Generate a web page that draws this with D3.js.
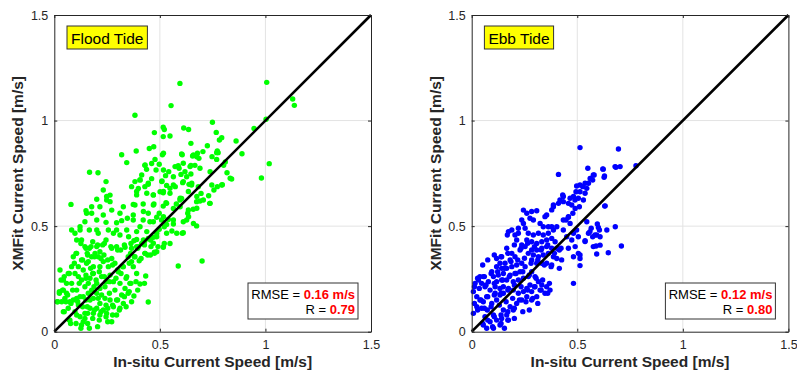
<!DOCTYPE html>
<html>
<head>
<meta charset="utf-8">
<script src="https://cdn.jsdelivr.net/npm/d3@7"></script>
<style>
  html, body { margin: 0; padding: 0; background: #fff; }
  svg { display: block; font-family: "Liberation Sans", Arial, sans-serif; }
</style>
</head>
<body>
<svg id="chart" width="797" height="374"></svg>
<script>
// axis ticks shared by both panels
const ticks = [0, 0.5, 1, 1.5];
const tickLabels = ["0", "0.5", "1", "1.5"];

// flood tide: [in-situ, xmfit]
const flood = [
  [0.595,1.176],[1.006,1.181],[1.129,1.102],[1.137,1.072],[0.553,1.071],[0.382,1.025],[1.003,1.006],[0.946,0.963],
  [0.749,0.992],[0.516,0.968],[0.521,0.958],[0.613,0.965],[0.636,0.958],[0.516,0.924],[0.548,0.927],[0.767,0.944],
  [0.793,0.919],[0.782,0.908],[0.861,0.903],[0.889,0.843],[1.018,0.796],[0.981,0.728],[0.647,0.892],[0.725,0.881],
  [0.474,0.943],[0.471,0.876],[0.450,0.868],[0.388,0.856],[0.319,0.838],[0.343,0.801],[0.167,0.755],[0.207,0.753],
  [0.079,0.603],[0.512,0.838],[0.429,0.788],[0.700,0.335],[0.587,0.311],
  [0.606,0.838],[0.655,0.832],[0.678,0.845],[0.685,0.821],[0.704,0.853],[0.747,0.829],[0.772,0.856],[0.776,0.848],
  [0.769,0.816],[0.810,0.804],[0.802,0.788],[0.818,0.753],[0.840,0.723],[0.796,0.696],[0.772,0.687],[0.756,0.671],
  [0.736,0.608],[0.731,0.644],[0.690,0.619],[0.695,0.655],[0.674,0.616],[0.658,0.580],[0.632,0.561],[0.636,0.545],
  [0.627,0.529],[0.674,0.501],[0.611,0.469],[0.606,0.466],[0.564,0.510],[0.557,0.477],[0.532,0.508],[0.548,0.418],
  [0.521,0.418],[0.516,0.400],[0.491,0.403],[0.474,0.376],[0.455,0.363],[0.429,0.371],[0.406,0.226],[0.445,0.141],
  [0.433,0.264],[0.377,0.169],
  [0.587,0.786],[0.591,0.774],[0.600,0.745],[0.619,0.758],[0.627,0.734],[0.647,0.747],[0.647,0.788],[0.666,0.788],
  [0.564,0.734],[0.542,0.758],[0.527,0.739],[0.510,0.714],[0.501,0.663],[0.516,0.658],[0.532,0.693],[0.548,0.679],
  [0.573,0.687],[0.608,0.706],[0.638,0.698],[0.650,0.695],[0.603,0.631],[0.595,0.624],[0.578,0.605],[0.564,0.584],
  [0.529,0.611],[0.516,0.595],[0.497,0.561],[0.485,0.542],[0.469,0.521],[0.508,0.529],[0.540,0.532],[0.521,0.497],
  [0.497,0.485],[0.485,0.466],[0.469,0.447],[0.456,0.434],[0.445,0.442],[0.429,0.431],[0.414,0.418],[0.398,0.403],
  [0.390,0.437],[0.377,0.431],[0.366,0.395],[0.361,0.371],[0.382,0.355],[0.402,0.336],
  [0.461,0.725],[0.445,0.698],[0.429,0.687],[0.398,0.678],[0.406,0.719],[0.390,0.648],[0.374,0.603],[0.421,0.605],
  [0.469,0.648],[0.472,0.605],[0.445,0.561],[0.421,0.529],[0.406,0.497],[0.374,0.529],[0.346,0.537],[0.311,0.561],
  [0.295,0.516],[0.327,0.592],[0.319,0.526],[0.272,0.576],[0.248,0.624],[0.264,0.616],[0.232,0.671],[0.248,0.640],
  [0.216,0.592],[0.232,0.553],[0.201,0.529],[0.177,0.561],[0.201,0.482],[0.208,0.466],[0.245,0.518],[0.256,0.482],
  [0.280,0.466],[0.295,0.482],[0.311,0.458],[0.343,0.482],[0.352,0.450],[0.335,0.400],[0.314,0.387],[0.295,0.403],
  [0.272,0.395],[0.245,0.434],[0.229,0.411],[0.201,0.403],[0.182,0.426],[0.166,0.395],[0.145,0.403],[0.129,0.434],
  [0.122,0.482],[0.122,0.497],[0.145,0.521],[0.153,0.561],[0.166,0.482],[0.098,0.466],[0.106,0.371],[0.090,0.355],
  [0.082,0.308],[0.043,0.245],[0.027,0.292],[0.024,0.190],[0.014,0.142],
  [0.043,0.197],[0.058,0.182],[0.074,0.142],[0.066,0.111],[0.074,0.055],[0.077,0.039],[0.098,0.095],[0.114,0.126],
  [0.122,0.071],[0.129,0.032],[0.137,0.047],[0.145,0.087],[0.156,0.118],[0.169,0.150],[0.161,0.182],[0.145,0.213],
  [0.129,0.245],[0.114,0.261],[0.098,0.276],[0.082,0.229],[0.106,0.197],[0.122,0.166],[0.090,0.150],[0.114,0.308],
  [0.129,0.340],[0.153,0.324],[0.172,0.300],[0.185,0.276],[0.198,0.245],[0.188,0.213],[0.201,0.182],[0.208,0.158],
  [0.216,0.134],[0.201,0.111],[0.185,0.087],[0.216,0.079],[0.232,0.103],[0.248,0.087],[0.245,0.126],[0.264,0.150],
  [0.261,0.182],[0.240,0.213],[0.224,0.261],[0.216,0.308],[0.232,0.332],[0.256,0.308],[0.264,0.268],[0.280,0.237],
  [0.287,0.197],[0.295,0.150],[0.280,0.118],[0.272,0.047],[0.295,0.079],[0.311,0.111],[0.327,0.134],[0.319,0.174],
  [0.335,0.205],[0.311,0.229],[0.303,0.284],[0.327,0.308],[0.343,0.261],[0.358,0.229],[0.350,0.182],[0.366,0.142],
  [0.374,0.308],[0.390,0.276],[0.366,0.332],[0.350,0.355],[0.150,0.268],[0.156,0.371],[0.177,0.355],[0.193,0.371],
  [0.208,0.355],[0.216,0.379],[0.235,0.363],[0.272,0.347],[0.287,0.324],[0.150,0.150],[0.169,0.111],[0.145,0.063],
  [0.106,0.079],[0.043,0.095],[0.035,0.142],[0.050,0.158],[0.058,0.229],[0.066,0.276],[0.137,0.166],[0.177,0.197],
  [0.201,0.229],[0.245,0.237],[0.161,0.229],[0.106,0.158],[0.216,0.205],[0.224,0.174],[0.240,0.158],[0.185,0.158],
  [0.169,0.253],[0.185,0.308],[0.137,0.292],[0.161,0.332],
  [0.082,0.482],[0.106,0.434],[0.150,0.573],[0.177,0.592],[0.201,0.627],[0.245,0.711],[0.264,0.647],
  [0.366,0.687],[0.382,0.711],[0.414,0.742],[0.437,0.769],[0.461,0.797],[0.482,0.766],[0.497,0.793],[0.477,0.816],
  [0.126,0.418],[0.150,0.395],[0.174,0.403],[0.205,0.411],[0.237,0.418],[0.268,0.403],[0.300,0.387],[0.332,0.411],
  [0.363,0.418],[0.395,0.395],[0.427,0.411],[0.458,0.403],[0.474,0.371],[0.442,0.363],[0.411,0.347],[0.379,0.355],
  [0.355,0.324],[0.324,0.308],[0.300,0.292],[0.276,0.316],[0.253,0.340],[0.221,0.347],[0.190,0.355],[0.158,0.363],
  [0.134,0.340],[0.103,0.371],[0.095,0.324],[0.071,0.276],[0.047,0.261],[0.032,0.245],[0.039,0.197],[0.024,0.182],
  [0.063,0.174],[0.087,0.197],[0.118,0.229],[0.150,0.253],[0.182,0.276],[0.213,0.284],[0.237,0.261],[0.261,0.237],
  [0.292,0.253],[0.316,0.276],[0.340,0.253],[0.363,0.229],[0.387,0.237],[0.427,0.229],[0.395,0.197],[0.355,0.190],
  [0.332,0.166],[0.300,0.150],[0.276,0.126],[0.253,0.111],[0.221,0.095],[0.190,0.103],[0.158,0.087],[0.134,0.118],
  [0.111,0.142],[0.079,0.134],[0.055,0.142],[0.016,0.142],[0.047,0.095],[0.071,0.055],[0.103,0.039],[0.126,0.016],
  [0.158,0.039],[0.182,0.063],[0.213,0.055],[0.245,0.071],[0.276,0.079],[0.308,0.103],[0.340,0.118],[0.253,0.047],
  [0.205,0.024],[0.166,0.016],
  [0.517,0.845],[0.603,0.842],[0.659,0.837],[0.675,0.829],[0.769,0.848],[0.430,0.790],[0.517,0.766],[0.572,0.782],
  [0.611,0.798],[0.643,0.782],[0.690,0.774],[0.738,0.758],[0.406,0.719],[0.445,0.703],[0.509,0.711],[0.564,0.695],
  [0.611,0.711],[0.651,0.703],[0.682,0.687],[0.746,0.695],[0.793,0.695],[0.833,0.727],[0.390,0.664],[0.438,0.656],
  [0.469,0.648],[0.517,0.664],[0.548,0.656],[0.596,0.632],[0.635,0.664],[0.675,0.640],[0.706,0.624],[0.738,0.608],
  [0.382,0.600],[0.422,0.569],[0.469,0.600],[0.532,0.608],[0.596,0.592],[0.635,0.577],[0.675,0.585],[0.374,0.553],
  [0.453,0.521],[0.517,0.545],[0.564,0.529],[0.611,0.521],[0.659,0.513],[0.390,0.474],[0.438,0.474],[0.485,0.450],
  [0.532,0.466],[0.580,0.466],[0.422,0.434],[0.469,0.419],[0.517,0.403],[0.390,0.403],[0.430,0.371],[0.485,0.379]
];

// ebb tide: [in-situ, xmfit]
const ebb = [
  [0.513,0.872],[0.695,0.865],[0.621,0.771],[0.679,0.782],[0.703,0.782],[0.778,0.786],[0.550,0.774],[0.411,0.745],
  [0.629,0.738],[0.630,0.595],[0.709,0.406],[0.680,0.497],[0.647,0.374],[0.482,0.229],[0.513,0.313],
  [0.580,0.742],[0.573,0.718],[0.561,0.726],[0.553,0.703],[0.537,0.703],[0.526,0.687],[0.513,0.695],[0.497,0.690],
  [0.494,0.663],[0.513,0.663],[0.482,0.640],[0.466,0.632],[0.458,0.608],[0.474,0.600],[0.490,0.584],[0.479,0.561],
  [0.458,0.545],[0.434,0.616],[0.411,0.608],[0.387,0.600],[0.431,0.648],[0.537,0.656],[0.545,0.679],[0.529,0.624],
  [0.510,0.592],[0.434,0.640],[0.387,0.592],
  [0.545,0.521],[0.566,0.490],[0.595,0.510],[0.605,0.482],[0.592,0.458],[0.608,0.450],[0.573,0.450],[0.553,0.466],
  [0.537,0.431],[0.576,0.403],[0.589,0.406],[0.608,0.410],[0.592,0.368],[0.640,0.482],[0.497,0.482],[0.482,0.466],
  [0.474,0.434],[0.490,0.403],[0.505,0.371],[0.513,0.347],[0.482,0.355],[0.458,0.395],[0.450,0.450],[0.466,0.513],
  [0.434,0.482],[0.447,0.529],[0.426,0.340],[0.415,0.387],
  [0.308,0.573],[0.284,0.569],[0.276,0.537],[0.292,0.529],[0.355,0.553],[0.324,0.513],[0.339,0.497],[0.363,0.497],
  [0.379,0.497],[0.387,0.482],[0.403,0.497],[0.363,0.466],[0.339,0.458],[0.316,0.466],[0.292,0.458],[0.268,0.466],
  [0.253,0.490],[0.245,0.513],[0.261,0.434],[0.284,0.426],[0.308,0.418],[0.332,0.426],[0.355,0.434],[0.379,0.442],
  [0.395,0.426],[0.403,0.395],[0.379,0.395],[0.355,0.403],[0.332,0.395],[0.308,0.387],[0.284,0.387],[0.292,0.363],
  [0.316,0.355],[0.339,0.363],[0.363,0.371],[0.387,0.355],[0.403,0.347],[0.379,0.316],[0.355,0.324],[0.332,0.324],
  [0.308,0.324],[0.284,0.340],[0.268,0.371],[0.253,0.403],[0.237,0.411],[0.229,0.387],[0.213,0.434],[0.205,0.458],
  [0.221,0.466],[0.190,0.482],[0.174,0.474],[0.221,0.490],[0.237,0.529],[0.261,0.561],[0.245,0.576],
  [0.166,0.395],[0.190,0.371],[0.205,0.355],[0.182,0.340],[0.158,0.324],[0.134,0.324],[0.118,0.308],[0.142,0.300],
  [0.166,0.300],[0.190,0.308],[0.213,0.316],[0.237,0.324],[0.253,0.308],[0.229,0.284],[0.205,0.276],[0.182,0.268],
  [0.150,0.276],[0.126,0.268],[0.103,0.261],[0.095,0.284],[0.118,0.237],[0.142,0.245],[0.166,0.245],[0.197,0.237],
  [0.221,0.245],[0.245,0.253],[0.268,0.261],[0.284,0.284],[0.300,0.261],[0.316,0.237],[0.332,0.221],[0.355,0.213],
  [0.371,0.197],[0.347,0.182],[0.324,0.197],[0.300,0.213],[0.276,0.221],[0.261,0.205],[0.245,0.190],[0.221,0.182],
  [0.197,0.197],[0.174,0.205],[0.150,0.213],[0.284,0.190],[0.308,0.166],[0.284,0.150],[0.261,0.166],[0.237,0.150],
  [0.213,0.134],[0.197,0.103],[0.182,0.118],[0.166,0.079],[0.150,0.103],[0.174,0.055],[0.142,0.063],[0.134,0.032],
  [0.118,0.055],[0.103,0.079],[0.087,0.047],[0.071,0.016],[0.063,0.071],[0.074,0.103],[0.095,0.134],[0.118,0.150],
  [0.134,0.174],[0.111,0.182],[0.087,0.197],[0.063,0.213],[0.047,0.229],[0.032,0.245],[0.016,0.229],[0.008,0.190],
  [0.024,0.166],[0.039,0.150],[0.008,0.087],[0.024,0.118],[0.047,0.111],[0.055,0.142],[0.071,0.166],[0.079,0.237],
  [0.055,0.261],[0.039,0.261],[0.111,0.213],[0.134,0.205],[0.150,0.182],[0.103,0.016],[0.055,0.032],
  [0.169,0.458],[0.142,0.355],[0.118,0.347],
  [0.202,0.411],[0.234,0.395],[0.265,0.419],[0.297,0.403],[0.329,0.387],[0.360,0.411],[0.392,0.371],[0.423,0.395],
  [0.171,0.371],[0.139,0.355],[0.107,0.363],[0.076,0.340],[0.052,0.316],[0.186,0.332],[0.218,0.340],[0.250,0.348],
  [0.281,0.324],[0.313,0.340],[0.344,0.316],[0.376,0.308],[0.415,0.300],[0.155,0.300],[0.123,0.284],[0.092,0.276],
  [0.060,0.261],[0.028,0.253],[0.013,0.213],[0.036,0.205],[0.068,0.221],[0.107,0.229],[0.147,0.245],[0.178,0.261],
  [0.210,0.276],[0.242,0.284],[0.273,0.269],[0.305,0.253],[0.336,0.245],[0.368,0.229],[0.360,0.182],[0.329,0.197],
  [0.297,0.213],[0.265,0.197],[0.234,0.213],[0.202,0.221],[0.171,0.197],[0.139,0.182],[0.107,0.174],[0.076,0.166],
  [0.044,0.150],[0.013,0.134],[0.028,0.103],[0.060,0.111],[0.092,0.118],[0.131,0.126],[0.163,0.142],[0.194,0.158],
  [0.226,0.150],[0.257,0.142],[0.289,0.158],[0.313,0.134],[0.273,0.103],[0.242,0.095],[0.202,0.111],[0.171,0.095],
  [0.139,0.079],[0.107,0.071],[0.076,0.055],[0.052,0.039],[0.099,0.024],[0.139,0.039],[0.171,0.055],[0.202,0.063],
  [0.155,0.016],
  [0.623,0.770],[0.683,0.779],[0.627,0.731],[0.576,0.742],[0.564,0.726],[0.489,0.624],[0.505,0.632],[0.418,0.624],
  [0.379,0.577],[0.632,0.596],[0.347,0.545],[0.434,0.529],[0.458,0.542],[0.600,0.494],[0.560,0.474],[0.584,0.458],
  [0.505,0.450],[0.537,0.427],[0.513,0.363]
];

const panels = [
  {name: "Flood Tide", data: flood, color: "#00ff00", left: 54.3, rmse: "0.16 m/s", r: "0.79"},
  {name: "Ebb Tide", data: ebb, color: "#0000ff", left: 471.7, rmse: "0.12 m/s", r: "0.80"}
];

const svg = d3.select("#chart");
const plotW = 316.7, plotTop = 15, plotH = 316.7;

panels.forEach(p => drawPanel(p));

function drawPanel(p) {
  const x = d3.scaleLinear().domain([0, 1.5]).range([p.left, p.left + plotW]);
  const y = d3.scaleLinear().domain([0, 1.5]).range([plotTop + plotH, plotTop]);
  const g = svg.append("g");

  // grid
  g.append("g").selectAll("line").data(ticks.slice(1, 3)).join("line")
    .attr("x1", d => x(d)).attr("x2", d => x(d))
    .attr("y1", plotTop).attr("y2", plotTop + plotH)
    .attr("stroke", "#e3e3e3").attr("stroke-width", 1);
  g.append("g").selectAll("line").data(ticks.slice(1, 3)).join("line")
    .attr("y1", d => y(d)).attr("y2", d => y(d))
    .attr("x1", p.left).attr("x2", p.left + plotW)
    .attr("stroke", "#e3e3e3").attr("stroke-width", 1);

  // points
  g.append("g").selectAll("circle").data(p.data).join("circle")
    .attr("cx", d => x(d[0])).attr("cy", d => y(d[1]))
    .attr("r", 2.7).attr("fill", p.color);

  // 1:1 line
  g.append("line")
    .attr("x1", x(0)).attr("y1", y(0)).attr("x2", x(1.5)).attr("y2", y(1.5))
    .attr("stroke", "#000").attr("stroke-width", 2.6);

  // axes (MATLAB style box, ticks inside)
  const fmt = (d, i) => tickLabels[i];
  const axB = g.append("g").attr("transform", `translate(0,${plotTop + plotH})`)
    .call(d3.axisBottom(x).tickValues(ticks).tickFormat(fmt).tickSizeInner(-3).tickSizeOuter(0).tickPadding(8));
  const axL = g.append("g").attr("transform", `translate(${p.left},0)`)
    .call(d3.axisLeft(y).tickValues(ticks).tickFormat(fmt).tickSizeInner(-3).tickSizeOuter(0).tickPadding(6));
  const axT = g.append("g").attr("transform", `translate(0,${plotTop})`)
    .call(d3.axisTop(x).tickValues(ticks).tickFormat("").tickSizeInner(-3).tickSizeOuter(0));
  const axR = g.append("g").attr("transform", `translate(${p.left + plotW},0)`)
    .call(d3.axisRight(y).tickValues(ticks).tickFormat("").tickSizeInner(-3).tickSizeOuter(0));
  [axB, axL, axT, axR].forEach(a => {
    a.select(".domain").attr("stroke", "#262626");
    a.selectAll(".tick line").attr("stroke", "#262626");
    a.selectAll(".tick text").attr("fill", "#262626")
      .style("font-size", "12.5px").style("font-family", "Liberation Sans, Arial, sans-serif");
  });

  // axis labels
  g.append("text")
    .attr("x", p.left + plotW / 2).attr("y", 367)
    .attr("text-anchor", "middle")
    .style("font-size", "15.5px").style("font-weight", "bold").attr("fill", "#262626")
    .text("In-situ Current Speed [m/s]");
  g.append("text")
    .attr("transform", `translate(${p.left - 31},${plotTop + plotH / 2}) rotate(-90)`)
    .attr("text-anchor", "middle")
    .style("font-size", "15.5px").style("font-weight", "bold").attr("fill", "#262626")
    .text("XMFit Current Speed [m/s]");

  // title box
  const tb = g.append("g").attr("transform", `translate(${p.left + 12.7},26)`);
  const tt = tb.append("text").attr("x", 4).attr("y", 17.5)
    .style("font-size", "15.5px").attr("fill", "#000").text(p.name);
  const w = tt.node().getComputedTextLength();
  tb.insert("rect", "text").attr("width", w + 8).attr("height", 23)
    .attr("fill", "#ffff00").attr("stroke", "#333").attr("stroke-width", 1);

  // stats box
  const bx = p.left + plotW - 123, by = 283;
  g.append("rect").attr("x", bx).attr("y", by).attr("width", 110).attr("height", 36)
    .attr("fill", "#fff").attr("stroke", "#333").attr("stroke-width", 1);
  const l1 = g.append("text").attr("x", bx + 107).attr("y", by + 15.5).attr("text-anchor", "end")
    .style("font-size", "13px");
  l1.append("tspan").attr("fill", "#000").text("RMSE = ");
  l1.append("tspan").attr("fill", "#ff0000").style("font-weight", "bold").text(p.rmse);
  const l2 = g.append("text").attr("x", bx + 107).attr("y", by + 31).attr("text-anchor", "end")
    .style("font-size", "13px");
  l2.append("tspan").attr("fill", "#000").text("R = ");
  l2.append("tspan").attr("fill", "#ff0000").style("font-weight", "bold").text(p.r);
}
</script>
</body>
</html>
